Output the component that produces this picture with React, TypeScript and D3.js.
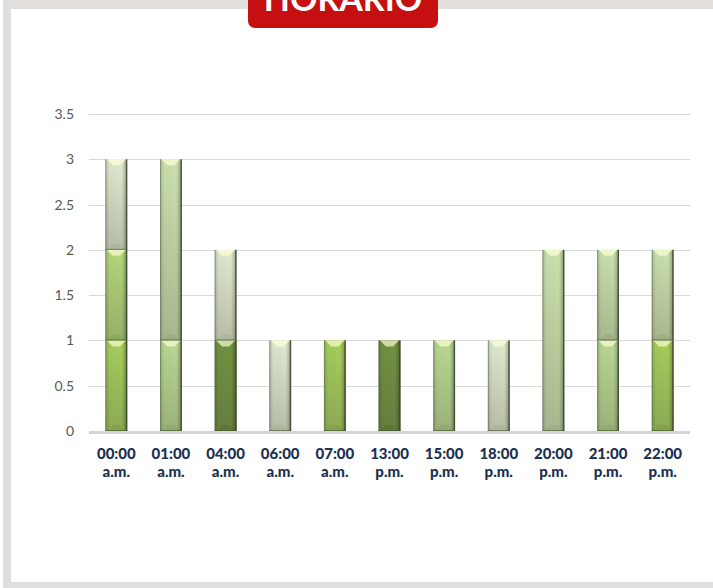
import { useEffect, useRef } from "react";
import * as d3 from "d3";

// hour labels (two lines) and the stacked series
const timeLabels = ["00:00", "01:00", "04:00", "06:00", "07:00", "13:00", "15:00", "18:00", "20:00", "21:00", "22:00"];
const periodLabels = ["a.m.", "a.m.", "a.m.", "a.m.", "a.m.", "p.m.", "p.m.", "p.m.", "p.m.", "p.m.", "p.m."];

const serieA = [1, 0, 0, 0, 1, 0, 0, 0, 0, 0, 1];
const serieB = [0, 0, 1, 0, 0, 1, 0, 0, 0, 0, 0];
const serieC = [0, 1, 0, 0, 0, 0, 1, 0, 0, 1, 0];
const serieD = [1, 0, 0, 0, 0, 0, 0, 0, 0, 0, 0];
const serieE = [0, 2, 0, 0, 0, 0, 0, 0, 2, 1, 1];
const serieF = [1, 0, 1, 1, 0, 0, 0, 1, 0, 0, 0];

const yTicks = [0, 0.5, 1, 1.5, 2, 2.5, 3, 3.5];

const seriesKeys = ["A", "B", "C", "D", "E", "F"];
const seriesColors = ["#9cc84a", "#62852c", "#b2d487", "#acd26c", "#c6dca5", "#dde6cb"];

export default function App() {
  const ref = useRef<SVGSVGElement | null>(null);

  useEffect(() => {
    const svg = d3.select(ref.current);
    svg.selectAll("*").remove();

    const W = 713;
    const H = 588;
    const left = 89;
    const right = 690;
    const top = 114;
    const bottom = 431;

    const rows = timeLabels.map((t, i) => ({
      t,
      A: serieA[i],
      B: serieB[i],
      C: serieC[i],
      D: serieD[i],
      E: serieE[i],
      F: serieF[i],
    }));

    const x = d3.scaleBand<string>().domain(timeLabels).range([left, right]).paddingInner(0.6).paddingOuter(0.3);
    const y = d3.scaleLinear().domain([0, 3.5]).range([bottom, top]);

    const stack = d3.stack<any>().keys(seriesKeys);
    const layers = stack(rows);

    const defs = svg.append("defs");
    seriesKeys.forEach((k, i) => {
      const c = seriesColors[i];
      const g = defs.append("linearGradient").attr("id", "grad" + k).attr("x1", 0).attr("y1", 0).attr("x2", 0).attr("y2", 1);
      g.append("stop").attr("offset", "0%").attr("stop-color", d3.interpolateRgb(c, "#ffffff")(0.1));
      g.append("stop").attr("offset", "100%").attr("stop-color", d3.interpolateRgb(c, "#6f7566")(0.35));
    });
    const side = defs.append("linearGradient").attr("id", "side").attr("x1", 0).attr("x2", 1).attr("y1", 0).attr("y2", 0);
    side.append("stop").attr("offset", "0%").attr("stop-color", "#000").attr("stop-opacity", 0.18);
    side.append("stop").attr("offset", "18%").attr("stop-color", "#000").attr("stop-opacity", 0.02);
    side.append("stop").attr("offset", "75%").attr("stop-color", "#000").attr("stop-opacity", 0);
    side.append("stop").attr("offset", "100%").attr("stop-color", "#000").attr("stop-opacity", 0.3);

    // background + frame
    svg.append("rect").attr("width", W).attr("height", H).attr("fill", "#ffffff");
    const frame = svg.append("g").attr("fill", "#e1dfdd");
    frame.append("rect").attr("x", 3).attr("y", 0).attr("width", W).attr("height", 9);
    frame.append("rect").attr("x", 3).attr("y", 0).attr("width", 8).attr("height", H);
    frame.append("rect").attr("x", 3).attr("y", 582).attr("width", W).attr("height", 6);

    // title tab (cut by the top edge, as in the original slide)
    svg.append("rect").attr("x", 248).attr("y", -10).attr("width", 190).attr("height", 38).attr("rx", 7).attr("fill", "#c60f11");
    svg
      .append("text")
      .attr("x", 343)
      .attr("y", 11)
      .attr("text-anchor", "middle")
      .attr("fill", "#ffffff")
      .style("font-family", "Lato, 'Open Sans', sans-serif")
      .style("font-weight", 700)
      .style("font-size", "34px")
      .text("HORARIO");

    // grid
    svg
      .append("g")
      .selectAll("line")
      .data(yTicks.filter((d) => d > 0))
      .join("line")
      .attr("x1", left)
      .attr("x2", right)
      .attr("y1", (d) => Math.round(y(d)) + 0.5)
      .attr("y2", (d) => Math.round(y(d)) + 0.5)
      .attr("stroke", "#d9d9d9")
      .attr("stroke-width", 1);

    // y labels
    svg
      .append("g")
      .selectAll("text")
      .data(yTicks)
      .join("text")
      .attr("x", 74)
      .attr("y", (d) => y(d) + 5)
      .attr("text-anchor", "end")
      .attr("fill", "#595959")
      .style("font-family", "Lato, sans-serif")
      .style("font-size", "14px")
      .text((d) => String(d));

    // bars
    const bw = x.bandwidth();
    const bars = svg.append("g");
    layers.forEach((layer, li) => {
      const k = seriesKeys[li];
      const c = seriesColors[li];
      layer.forEach((seg) => {
        if (seg[1] - seg[0] <= 0) return;
        const x0 = x(seg.data.t)!;
        const x1 = x0 + bw;
        const xc = x0 + bw / 2;
        const y0 = y(seg[1]);
        const y1 = y(seg[0]);
        const g = bars.append("g");
        g.append("rect").attr("x", x0).attr("y", y0).attr("width", bw).attr("height", y1 - y0).attr("fill", `url(#grad${k})`);
        g.append("rect").attr("x", x0).attr("y", y0).attr("width", bw).attr("height", y1 - y0).attr("fill", "url(#side)");
        // top bevel highlight
        g.append("polygon")
          .attr("points", [[x0 + 1.5, y0], [x1 - 1.5, y0], [xc + 3.5, y0 + 6], [xc - 3.5, y0 + 6]].map((p) => p.join(",")).join(" "))
          .attr("fill", d3.interpolateRgb(c, "#ffffd8")(0.7));
        // bottom bevel shade
        g.append("polygon")
          .attr("points", [[x0 + 1.5, y1], [x1 - 1.5, y1], [xc + 3.5, y1 - 6], [xc - 3.5, y1 - 6]].map((p) => p.join(",")).join(" "))
          .attr("fill", d3.interpolateRgb(c, "#3d4a2a")(0.35))
          .attr("opacity", 0.55);
        // edges
        g.append("line").attr("x1", x1 - 0.7).attr("x2", x1 - 0.7).attr("y1", y0).attr("y2", y1).attr("stroke", "#3a4630").attr("stroke-width", 1.4).attr("opacity", 0.85);
        g.append("line").attr("x1", x0 + 0.5).attr("x2", x0 + 0.5).attr("y1", y0).attr("y2", y1).attr("stroke", "#5b6650").attr("stroke-width", 1).attr("opacity", 0.5);
        g.append("line").attr("x1", x0).attr("x2", x1).attr("y1", y1 - 0.5).attr("y2", y1 - 0.5).attr("stroke", "#4a5638").attr("stroke-width", 1).attr("opacity", 0.6);
      });
    });

    // baseline
    svg.append("line").attr("x1", left).attr("x2", right).attr("y1", bottom + 1.5).attr("y2", bottom + 1.5).attr("stroke", "#d4d4d4").attr("stroke-width", 3);

    // x labels
    const xl = svg.append("g").attr("fill", "#1c3150").style("font-family", "Lato, sans-serif").style("font-weight", 900).style("font-size", "15px").attr("text-anchor", "middle");
    timeLabels.forEach((t, i) => {
      const cx = x(t)! + bw / 2;
      xl.append("text").attr("x", cx).attr("y", 459).text(t);
      xl.append("text").attr("x", cx).attr("y", 477).text(periodLabels[i]);
    });
  }, []);

  return <svg ref={ref} width={713} height={588} style={{ position: "absolute", left: 0, top: 0, display: "block" }} />;
}
